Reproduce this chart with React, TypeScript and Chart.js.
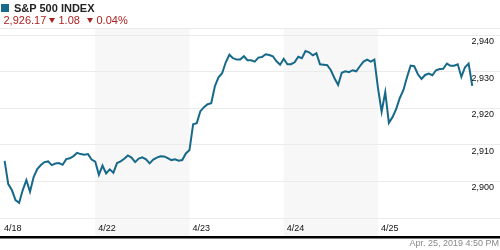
import React, { useEffect, useRef } from "react";
import { Chart, registerables } from "chart.js";

Chart.register(...registerables);

const dayLabels = ["4/18", "4/22", "4/23", "4/24", "4/25"];
const shadedDays = [1, 3];
const yLabelValues = [2900, 2910, 2920, 2930, 2940];
const yGridValues = [2890, 2900, 2910, 2920, 2930, 2940, 2942];

const day1 = [2905.66, 2899.29, 2897.65, 2894.92, 2894.18, 2897.65, 2900.38, 2897.19, 2901.2, 2903.39, 2904.48, 2905.3, 2905.49, 2904.48, 2904.89, 2905.03, 2904.56, 2906.12, 2906.34, 2906.94, 2907.84, 2907.49, 2907.3, 2907.49, 2905.98, 2905.44];
const day2 = [2901.83, 2904.34, 2902.21, 2903.31, 2902.38, 2905.03, 2905.49, 2906.2, 2907.13, 2906.53, 2905.3, 2906.26, 2906.58, 2906.04, 2904.95, 2905.98, 2906.53, 2906.89, 2906.86, 2906.39, 2905.85, 2906.04, 2905.66, 2905.85, 2907.68, 2908.58];
const day3 = [2915.68, 2915.96, 2919.23, 2920.33, 2921.15, 2921.42, 2926.07, 2928.52, 2929.62, 2932.62, 2934.67, 2933.72, 2933.36, 2933.36, 2934.26, 2933.17, 2933.17, 2932.81, 2933.91, 2934.07, 2934.81, 2934.62, 2934.26, 2932.9, 2931.94, 2933.58];
const day4 = [2932.08, 2932.08, 2932.62, 2934.13, 2933.72, 2935.71, 2935.36, 2934.54, 2935.08, 2932.08, 2931.94, 2931.8, 2930.44, 2928.25, 2926.42, 2929.75, 2930.16, 2929.89, 2930.44, 2930.16, 2931.53, 2932.81, 2933.36, 2932.81, 2933.36, 2925.52];
const day5 = [2919.1, 2924.43, 2916.04, 2917.6, 2919.78, 2922.79, 2924.97, 2928.52, 2931.72, 2931.53, 2929.34, 2928.06, 2929.15, 2929.54, 2929.07, 2930.44, 2930.79, 2930.85, 2932.27, 2931.67, 2931.67, 2932.08, 2928.61, 2931.26, 2932.27, 2926.17];
const days = [day1, day2, day3, day4, day5];

const title = "S&P 500 INDEX";
const lastValue = "2,926.17";
const change = "1.08";
const changePct = "0.04%";
const timestamp = "Apr. 25, 2019 4:50 PM";

const LINE = "#17698a";
const RED = "#ad1f1f";
const FONT = "'Liberation Sans', Arial, sans-serif";

export default function App() {
  const ref = useRef<HTMLCanvasElement | null>(null);

  useEffect(() => {
    document.body.style.margin = "0";
    const canvas = ref.current;
    if (!canvas) return;
    const points: { x: number; y: number }[] = [];
    days.forEach((vals, d) => {
      vals.forEach((v, k) => points.push({ x: d + (k + 1) / vals.length, y: v }));
    });

    const decor = {
      id: "decor",
      beforeDraw(chart: any) {
        const { ctx, chartArea } = chart;
        const xs = chart.scales.x;
        ctx.save();
        ctx.fillStyle = "#f7f7f7";
        shadedDays.forEach((d) => {
          const x0 = xs.getPixelForValue(d);
          const x1 = xs.getPixelForValue(d + 1);
          ctx.fillRect(x0, chartArea.top, x1 - x0, 236 - chartArea.top);
        });
        ctx.restore();
      },
      afterDraw(chart: any) {
        const { ctx, chartArea } = chart;
        const xs = chart.scales.x;
        const ys = chart.scales.y;
        ctx.save();
        ctx.font = `9px ${FONT}`;
        ctx.fillStyle = "#111";
        ctx.textAlign = "right";
        ctx.textBaseline = "alphabetic";
        yLabelValues.forEach((v) => {
          const py = ys.getPixelForValue(v);
          ctx.fillText(v.toLocaleString("en-US"), chartArea.right - 6, py + 9);
        });
        ctx.textAlign = "left";
        dayLabels.forEach((lab, i) => {
          const px = xs.getPixelForValue(i);
          ctx.fillText(lab, px + 3, 231);
        });
        ctx.fillStyle = "#000";
        ctx.fillRect(0, 236, chart.width, 2.5);
        ctx.restore();
      },
    };

    const chart = new Chart(canvas, {
      type: "line",
      data: {
        datasets: [
          {
            data: points,
            borderColor: LINE,
            borderWidth: 2,
            pointRadius: 0,
            tension: 0,
            fill: false,
          },
        ],
      },
      options: {
        responsive: false,
        animation: false,
        layout: { padding: { top: 28, bottom: 32, left: 0, right: 0 } },
        plugins: { legend: { display: false }, tooltip: { enabled: false } },
        scales: {
          x: {
            type: "linear",
            display: false,
            min: -1 / 94.25,
            max: -1 / 94.25 + 500 / 94.25,
          },
          y: {
            type: "linear",
            position: "right",
            min: 2890,
            max: 2942,
            afterBuildTicks: (scale: any) => {
              scale.ticks = yGridValues.map((v) => ({ value: v }));
            },
            ticks: { display: false },
            grid: { color: "#ebebeb", drawTicks: false, lineWidth: 1 },
            border: { display: false },
          },
        },
      },
      plugins: [decor],
    });
    return () => chart.destroy();
  }, []);

  const abs = (o: React.CSSProperties): React.CSSProperties => ({ position: "absolute", whiteSpace: "nowrap", ...o });
  const tri = (left: number): React.CSSProperties =>
    abs({ left, top: 18, width: 0, height: 0, borderLeft: "3px solid transparent", borderRight: "3px solid transparent", borderTop: `5px solid ${RED}` });

  return (
    <div style={{ position: "relative", width: 500, height: 250, fontFamily: FONT, background: "#fff", overflow: "hidden" }}>
      <canvas ref={ref} width={500} height={250} style={{ position: "absolute", left: 0, top: 0 }} />
      <div style={abs({ left: 1, top: 4, width: 8, height: 8, background: LINE })} />
      <div style={abs({ left: 14, top: 3, fontSize: 11, lineHeight: "11px", fontWeight: "bold", color: "#222" })}>{title}</div>
      <div style={abs({ left: 3.5, top: 15, fontSize: 11, lineHeight: "11px", color: RED })}>{lastValue}</div>
      <div style={tri(49)} />
      <div style={abs({ left: 58.5, top: 15, fontSize: 11, lineHeight: "11px", color: RED })}>{change}</div>
      <div style={tri(87)} />
      <div style={abs({ left: 96.5, top: 15, fontSize: 11, lineHeight: "11px", color: RED })}>{changePct}</div>
      <div style={abs({ right: 1, top: 238.5, fontSize: 9, lineHeight: "9px", color: "#888" })}>{timestamp}</div>
    </div>
  );
}
